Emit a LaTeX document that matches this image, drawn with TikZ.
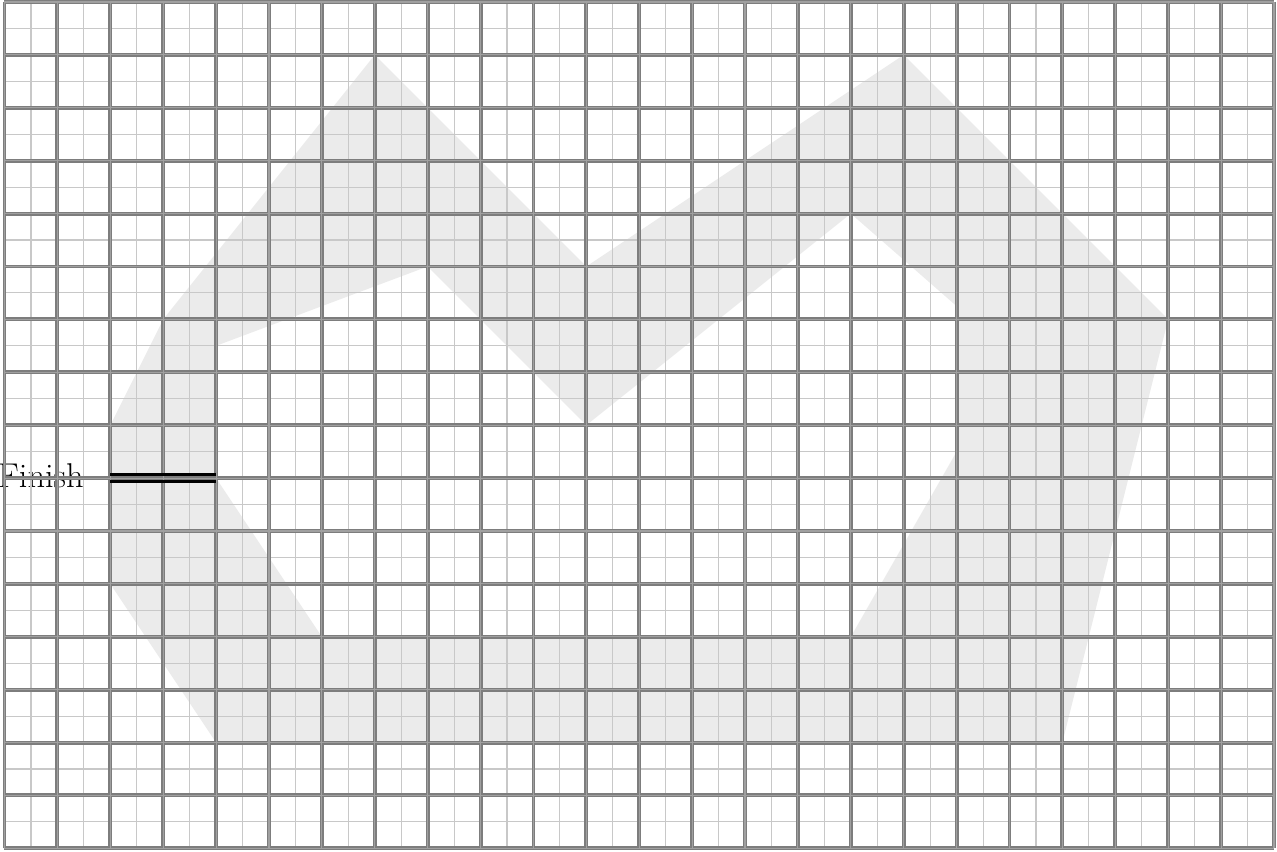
\documentclass[tikz,border=0pt]{standalone}
\usetikzlibrary{calc}
\definecolor{trackgray}{RGB}{235,235,235}
\definecolor{minorgray}{RGB}{200,200,200}
\definecolor{majordark}{RGB}{125,125,125}
\definecolor{majorlight}{RGB}{160,160,160}
\tikzset{
  track/.style={fill=trackgray, draw=none, even odd rule},
  minorgrid/.style={draw=minorgray, line width=0.6pt},
  majorgrid/.style={draw=majordark, line width=2.1pt},
  majorcore/.style={draw=majorlight, line width=0.6pt},
  finishline/.style={draw=black, line width=1.3pt},
  finishlabel/.style={font=\fontsize{18.5}{22}\selectfont, inner sep=0pt, anchor=base east}
}
\begin{document}
\begin{tikzpicture}
\useasboundingbox (-0.085,-0.057) rectangle (24.057,16.038);
% track
\path[track]
  (2,8) -- (3,10) -- (7,15) -- (11,11) -- (17,15) -- (22,10) -- (20,2) -- (4,2) -- (2,5) -- cycle
  (4,9.5) -- (8,11) -- (11,8) -- (16,12) -- (18,10.25) -- (18,7.5) -- (16,4) -- (6,4) -- (4,7) -- cycle;
% label (under the grid, as in the reference)
\node[finishlabel] (finish) at (1.503,6.83) {Finish};
% grid
\draw[minorgrid] (0,0) grid[step=0.5] (24,16);
\draw[majorgrid] (0,0) grid[step=1] (24,16);
\draw[majorcore] (0,0) grid[step=1] (24,16);
% finish line
\coordinate (fa) at (2,7);
\coordinate (fb) at (4,7);
\draw[finishline] ($(fa)+(0,0.068)$) -- ($(fb)+(0,0.068)$);
\draw[finishline] ($(fa)+(0,-0.068)$) -- ($(fb)+(0,-0.068)$);
\end{tikzpicture}
\end{document}
